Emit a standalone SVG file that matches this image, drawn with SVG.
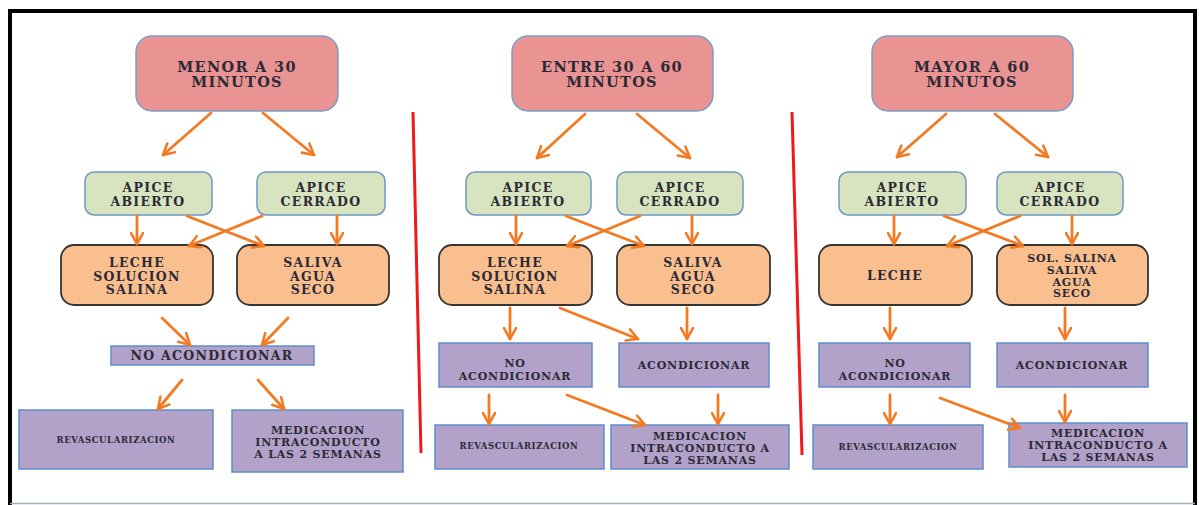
<svg xmlns="http://www.w3.org/2000/svg" width="1199" height="505" viewBox="0 0 1199 505">
<defs>
<marker id="ah" markerUnits="userSpaceOnUse" markerWidth="14" markerHeight="14" viewBox="0 0 14 14" refX="12" refY="7" orient="auto">
<path d="M1,1 L12,7 L1,13" fill="none" stroke="#F47A22" stroke-width="2.6" stroke-linecap="round" stroke-linejoin="round"/>
</marker>
</defs>
<style>
.t{font-family:"DejaVu Serif","Liberation Serif",serif;font-weight:bold;fill:#2b2a36;text-anchor:middle}
.big{font-size:14.5px;letter-spacing:1.3px}
.md{font-size:12.5px;letter-spacing:1.3px}
.sm{font-size:11px;letter-spacing:0.8px}
.xs{font-size:8.5px;letter-spacing:0.6px}
.pink{fill:#E99393;stroke:#7C9CC9;stroke-width:1.5}
.green{fill:#D7E4BF;stroke:#6F97C6;stroke-width:1.5}
.orange{fill:#F9BF8F;stroke:#3a3430;stroke-width:1.8}
.purple{fill:#B2A1C8;stroke:#5F8DCB;stroke-width:1.5}
.arr{stroke:#F47A22;stroke-width:2.8;fill:none;marker-end:url(#ah);stroke-linecap:round}
.red{stroke:#F01818;stroke-width:3}
</style>
<rect width="1199" height="505" fill="#ffffff"/>
<path d="M10,505 V11 H1195 V505" fill="none" stroke="#000" stroke-width="4"/>
<line x1="10" y1="503.5" x2="1195" y2="503.5" stroke="#9fb0c0" stroke-width="1.5"/>
<g id="dividers">
<line class="red" x1="413" y1="112" x2="421" y2="453"/>
<line class="red" x1="792" y1="112" x2="802" y2="455"/>
</g>

<!-- Panel 1 -->
<g id="p1-top"><rect class="pink" x="136" y="36" width="202" height="75" rx="16"/><text class="t big" x="237" y="72">MENOR A 30</text><text class="t big" x="237" y="87">MINUTOS</text></g>
<g id="p1-abierto"><rect class="green" x="85" y="172" width="127" height="43" rx="9"/><text class="t md" x="148" y="192">APICE</text><text class="t md" x="148" y="206">ABIERTO</text></g>
<g id="p1-cerrado"><rect class="green" x="257" y="172" width="128" height="43" rx="9"/><text class="t md" x="321" y="192">APICE</text><text class="t md" x="321" y="206">CERRADO</text></g>
<g id="p1-leche"><rect class="orange" x="61" y="245" width="152" height="60" rx="13"/><text class="t md" x="137" y="267">LECHE</text><text class="t md" x="137" y="281">SOLUCION</text><text class="t md" x="137" y="294">SALINA</text></g>
<g id="p1-saliva"><rect class="orange" x="237" y="245" width="152" height="60" rx="13"/><text class="t md" x="313" y="267">SALIVA</text><text class="t md" x="313" y="281">AGUA</text><text class="t md" x="313" y="294">SECO</text></g>
<g id="p1-noacond"><rect class="purple" x="111" y="346" width="203" height="19"/><text class="t md" x="212" y="360">NO ACONDICIONAR</text></g>
<g id="p1-revasc"><rect class="purple" x="19" y="410" width="194" height="59"/><text class="t xs" x="116" y="443">REVASCULARIZACION</text></g>
<g id="p1-medic"><rect class="purple" x="232" y="410" width="171" height="62"/><text class="t sm" x="318" y="434">MEDICACION</text><text class="t sm" x="318" y="446">INTRACONDUCTO</text><text class="t sm" x="318" y="458">A LAS 2 SEMANAS</text></g>

<!-- Panel 2 -->
<g id="p2-top"><rect class="pink" x="512" y="36" width="201" height="75" rx="16"/><text class="t big" x="612" y="72">ENTRE 30 A 60</text><text class="t big" x="612" y="87">MINUTOS</text></g>
<g id="p2-abierto"><rect class="green" x="466" y="172" width="125" height="43" rx="9"/><text class="t md" x="528" y="192">APICE</text><text class="t md" x="528" y="206">ABIERTO</text></g>
<g id="p2-cerrado"><rect class="green" x="617" y="172" width="126" height="43" rx="9"/><text class="t md" x="680" y="192">APICE</text><text class="t md" x="680" y="206">CERRADO</text></g>
<g id="p2-leche"><rect class="orange" x="439" y="245" width="153" height="60" rx="13"/><text class="t md" x="515" y="267">LECHE</text><text class="t md" x="515" y="281">SOLUCION</text><text class="t md" x="515" y="294">SALINA</text></g>
<g id="p2-saliva"><rect class="orange" x="617" y="245" width="153" height="60" rx="13"/><text class="t md" x="693" y="267">SALIVA</text><text class="t md" x="693" y="281">AGUA</text><text class="t md" x="693" y="294">SECO</text></g>
<g id="p2-noacond"><rect class="purple" x="439" y="343" width="153" height="44"/><text class="t sm" x="515" y="367">NO</text><text class="t sm" x="515" y="380">ACONDICIONAR</text></g>
<g id="p2-acond"><rect class="purple" x="619" y="343" width="150" height="44"/><text class="t sm" x="694" y="369">ACONDICIONAR</text></g>
<g id="p2-revasc"><rect class="purple" x="435" y="425" width="169" height="44"/><text class="t xs" x="519" y="449">REVASCULARIZACION</text></g>
<g id="p2-medic"><rect class="purple" x="611" y="425" width="178" height="44"/><text class="t sm" x="700" y="440">MEDICACION</text><text class="t sm" x="700" y="452">INTRACONDUCTO A</text><text class="t sm" x="700" y="464">LAS 2 SEMANAS</text></g>

<!-- Panel 3 -->
<g id="p3-top"><rect class="pink" x="872" y="36" width="201" height="75" rx="16"/><text class="t big" x="972" y="72">MAYOR A 60</text><text class="t big" x="972" y="87">MINUTOS</text></g>
<g id="p3-abierto"><rect class="green" x="839" y="172" width="127" height="43" rx="9"/><text class="t md" x="902" y="192">APICE</text><text class="t md" x="902" y="206">ABIERTO</text></g>
<g id="p3-cerrado"><rect class="green" x="997" y="172" width="126" height="43" rx="9"/><text class="t md" x="1060" y="192">APICE</text><text class="t md" x="1060" y="206">CERRADO</text></g>
<g id="p3-leche"><rect class="orange" x="819" y="245" width="153" height="60" rx="13"/><text class="t md" x="895" y="280">LECHE</text></g>
<g id="p3-sol"><rect class="orange" x="997" y="245" width="151" height="60" rx="13"/><text class="t sm" x="1072" y="262">SOL. SALINA</text><text class="t sm" x="1072" y="274">SALIVA</text><text class="t sm" x="1072" y="286">AGUA</text><text class="t sm" x="1072" y="297">SECO</text></g>
<g id="p3-noacond"><rect class="purple" x="819" y="343" width="151" height="44"/><text class="t sm" x="895" y="367">NO</text><text class="t sm" x="895" y="380">ACONDICIONAR</text></g>
<g id="p3-acond"><rect class="purple" x="997" y="343" width="151" height="44"/><text class="t sm" x="1072" y="369">ACONDICIONAR</text></g>
<g id="p3-revasc"><rect class="purple" x="813" y="425" width="170" height="44"/><text class="t xs" x="898" y="450">REVASCULARIZACION</text></g>
<g id="p3-medic"><rect class="purple" x="1009" y="423" width="178" height="44"/><text class="t sm" x="1098" y="437">MEDICACION</text><text class="t sm" x="1098" y="449">INTRACONDUCTO A</text><text class="t sm" x="1098" y="461">LAS 2 SEMANAS</text></g>

<g id="connectors">
<!-- panel 1 -->
<line class="arr" x1="211" y1="113" x2="163" y2="155"/>
<line class="arr" x1="263" y1="113" x2="314" y2="155"/>
<line class="arr" x1="137" y1="216" x2="137" y2="244"/>
<line class="arr" x1="337" y1="216" x2="337" y2="244"/>
<line class="arr" x1="187" y1="216" x2="264" y2="246"/>
<line class="arr" x1="262" y1="216" x2="189" y2="246"/>
<line class="arr" x1="162" y1="318" x2="190" y2="345"/>
<line class="arr" x1="288" y1="318" x2="262" y2="345"/>
<line class="arr" x1="182" y1="380" x2="158" y2="409"/>
<line class="arr" x1="258" y1="380" x2="284" y2="409"/>
<!-- panel 2 -->
<line class="arr" x1="585" y1="114" x2="537" y2="158"/>
<line class="arr" x1="637" y1="114" x2="690" y2="158"/>
<line class="arr" x1="516" y1="216" x2="516" y2="244"/>
<line class="arr" x1="692" y1="216" x2="692" y2="244"/>
<line class="arr" x1="566" y1="216" x2="644" y2="246"/>
<line class="arr" x1="640" y1="216" x2="567" y2="246"/>
<line class="arr" x1="510" y1="308" x2="510" y2="339"/>
<line class="arr" x1="560" y1="308" x2="638" y2="339"/>
<line class="arr" x1="687" y1="308" x2="687" y2="339"/>
<line class="arr" x1="489" y1="395" x2="489" y2="424"/>
<line class="arr" x1="567" y1="395" x2="645" y2="425"/>
<line class="arr" x1="718" y1="395" x2="718" y2="424"/>
<!-- panel 3 -->
<line class="arr" x1="946" y1="114" x2="897" y2="157"/>
<line class="arr" x1="995" y1="114" x2="1048" y2="157"/>
<line class="arr" x1="894" y1="216" x2="894" y2="244"/>
<line class="arr" x1="1072" y1="216" x2="1072" y2="244"/>
<line class="arr" x1="944" y1="216" x2="1023" y2="246"/>
<line class="arr" x1="1020" y1="216" x2="947" y2="246"/>
<line class="arr" x1="890" y1="308" x2="890" y2="339"/>
<line class="arr" x1="1065" y1="308" x2="1065" y2="339"/>
<line class="arr" x1="890" y1="395" x2="890" y2="424"/>
<line class="arr" x1="940" y1="398" x2="1020" y2="428"/>
<line class="arr" x1="1065" y1="395" x2="1065" y2="422"/>
</g>
</svg>
